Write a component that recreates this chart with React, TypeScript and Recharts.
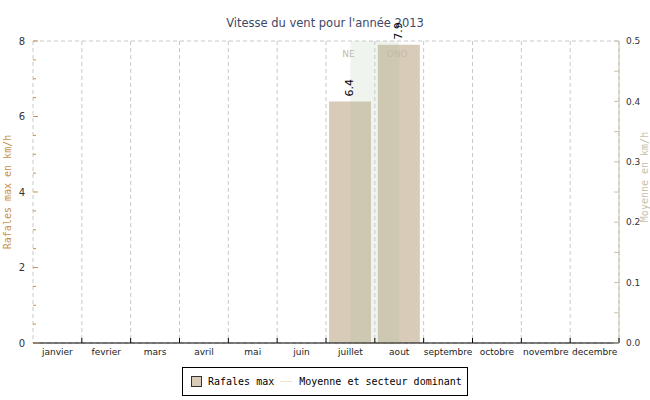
import React from 'react'
import {
  ComposedChart, Bar, Line, XAxis, YAxis, CartesianGrid,
  ReferenceArea, LabelList, Legend,
} from 'recharts'

// données 2013
const months = ['janvier', 'fevrier', 'mars', 'avril', 'mai', 'juin', 'juillet', 'aout', 'septembre', 'octobre', 'novembre', 'decembre']
const rafalesMax = [null, null, null, null, null, null, 6.4, 7.9, null, null, null, null]
const moyenne = [null, null, null, null, null, null, 0, 0, null, null, null, null]
const secteur = ['', '', '', '', '', '', 'NE', 'ONO', '', '', '', '']

const leftTicks = [0, 0.5, 1, 1.5, 2, 2.5, 3, 3.5, 4, 4.5, 5, 5.5, 6, 6.5, 7, 7.5, 8]
const leftMajor = [0, 2, 4, 6, 8]
const rightTicks = [0, 0.05, 0.1, 0.15, 0.2, 0.25, 0.3, 0.35, 0.4, 0.45, 0.5]
const rightMajor = [0, 0.1, 0.2, 0.3, 0.4, 0.5]
const gridY = [2, 4, 6, 8]
const gridX = [1, 2, 3, 4, 5, 6, 7, 8, 9, 10, 11]

const data = months.map((m, i) => ({
  mois: m, idx: i + 0.5,
  rafales: rafalesMax[i], moyenne: moyenne[i], secteur: secteur[i],
}))

// bande verte : mois qui ont une moyenne
const withMoy = moyenne.map((v, i) => (v == null ? -1 : i)).filter(i => i >= 0)
const bandFrom = withMoy[0] + 0.5
const bandTo = withMoy[withMoy.length - 1] + 0.5

const W = 650
const H = 400
const PLOT_LEFT = 33
const PLOT_RIGHT = 619
const PLOT_TOP = 41
const PLOT_BOTTOM = 343
const BW = (PLOT_RIGHT - PLOT_LEFT) / months.length

const BAR = '#d8ccb8'
const LEFT_COL = '#c8914a'
const RIGHT_COL = '#c8c0aa'
const MONO = '"DejaVu Sans Mono", monospace'
const SANS = '"DejaVu Sans", sans-serif'

function MonthTick({ x, payload }: any) {
  return (
    <g>
      <line x1={x + BW / 2} x2={x + BW / 2} y1={PLOT_BOTTOM - 5} y2={PLOT_BOTTOM} stroke="#000" />
      <text x={x} y={PLOT_BOTTOM + 12} textAnchor="middle" fontSize={9} fontFamily={SANS} fill="#222">
        {payload.value}
      </text>
    </g>
  )
}

function LeftTick({ y, payload }: any) {
  const major = leftMajor.includes(payload.value)
  return (
    <g>
      <line x1={PLOT_LEFT} x2={PLOT_LEFT + (major ? 5 : 3)} y1={y} y2={y} stroke={LEFT_COL} />
      {major && (
        <text x={PLOT_LEFT - 8} y={y} dy="0.35em" textAnchor="end" fontSize={10} fontFamily={SANS} fill="#333">
          {payload.value}
        </text>
      )}
    </g>
  )
}

function RightTick({ y, payload }: any) {
  const major = rightMajor.includes(payload.value)
  return (
    <g>
      <line x1={PLOT_RIGHT - 5} x2={PLOT_RIGHT} y1={y} y2={y} stroke={RIGHT_COL} />
      {major && (
        <text x={PLOT_RIGHT + 7} y={y} dy="0.35em" textAnchor="start" fontSize={9} fontFamily={SANS} fill="#333">
          {payload.value.toFixed(1)}
        </text>
      )}
    </g>
  )
}

function ValueLabel({ x, y, width, value }: any) {
  if (value == null) return null
  const cx = x + width / 2
  const ty = y - 5
  return (
    <text x={cx} y={ty} transform={`rotate(-90, ${cx}, ${ty})`} textAnchor="start" dominantBaseline="central"
      fontSize={11} fontFamily={SANS} fill="#000">
      {value}
    </text>
  )
}

function SectorLabel({ x, value }: any) {
  if (!value) return null
  return (
    <text x={x - 2} y={PLOT_TOP + 16} textAnchor="middle" fontSize={9} fontFamily={SANS} fill="#c4baa4">
      {value}
    </text>
  )
}

function LegendBox() {
  return (
    <div style={{
      border: '1px solid #000', background: '#fff', height: 27, width: 284,
      display: 'flex', alignItems: 'center', fontFamily: MONO, fontSize: 10, color: '#000',
    }}>
      <span style={{ width: 9, height: 9, marginLeft: 8, background: BAR, border: '1px solid #333' }} />
      <span style={{ marginLeft: 6 }}>Rafales max</span>
      <span style={{ width: 12, height: 1, background: '#ede4cc', margin: '0 7px 0 6px' }} />
      <span>Moyenne et secteur dominant</span>
    </div>
  )
}

export default function App() {
  return (
    <div style={{ position: 'absolute', left: 0, top: 0, width: W, height: H, background: '#fff' }}>
      <div style={{
        position: 'absolute', left: 0, top: 16, width: W, textAlign: 'center',
        fontFamily: SANS, fontSize: 11.5, color: '#3e4866', lineHeight: '14px',
      }}>
        Vitesse du vent pour l'année 2013
      </div>
      <ComposedChart width={W} height={H} data={data}
        margin={{ top: PLOT_TOP, right: 0, bottom: H - PLOT_BOTTOM - 20, left: 0 }}>
        <XAxis dataKey="mois" xAxisId="m" height={20} interval={0} tickLine={false} tickSize={0}
          axisLine={{ stroke: '#000' }} tick={<MonthTick />} />
        <XAxis xAxisId="n" type="number" dataKey="idx" domain={[0, months.length]} ticks={gridX} hide />
        <YAxis yAxisId="l" width={PLOT_LEFT} domain={[0, 8]} ticks={leftTicks} interval={0}
          tickLine={false} axisLine={{ stroke: LEFT_COL }} tick={<LeftTick />}
          label={{
            value: 'Rafales max en km/h',
            content: () => (
              <text x={7} y={(PLOT_TOP + PLOT_BOTTOM) / 2} transform={`rotate(-90, 7, ${(PLOT_TOP + PLOT_BOTTOM) / 2})`}
                textAnchor="middle" dominantBaseline="central" fontSize={10} fontFamily={MONO} fill={LEFT_COL}>
                Rafales max en km/h
              </text>
            ),
          }} />
        <YAxis yAxisId="r" orientation="right" width={W - PLOT_RIGHT} domain={[0, 0.5]} ticks={rightTicks} interval={0}
          tickLine={false} axisLine={{ stroke: RIGHT_COL }} tick={<RightTick />}
          label={{
            value: 'Moyenne en km/h',
            content: () => (
              <text x={644} y={177} transform="rotate(-90, 644, 177)"
                textAnchor="middle" dominantBaseline="central" fontSize={10} fontFamily={MONO} fill={RIGHT_COL}>
                Moyenne en km/h
              </text>
            ),
          }} />
        <YAxis yAxisId="g" domain={[0, 8]} ticks={gridY} hide />

        <Bar dataKey="rafales" xAxisId="m" yAxisId="l" fill={BAR} barSize={42} isAnimationActive={false}>
          <LabelList dataKey="rafales" content={<ValueLabel />} />
        </Bar>
        <ReferenceArea xAxisId="n" yAxisId="l" x1={bandFrom} x2={bandTo} y1={0} y2={8}
          fill="#8cb48c" fillOpacity={0.14} stroke="none" ifOverflow="visible" zIndex={450} />
        <Line dataKey="moyenne" xAxisId="m" yAxisId="r" stroke="#ede4cc" strokeWidth={1} dot={false}
          isAnimationActive={false} connectNulls={false}>
          <LabelList dataKey="secteur" content={<SectorLabel />} />
        </Line>
        <CartesianGrid xAxisId="n" yAxisId="g" stroke="#c8c8c8" strokeDasharray="4 3" zIndex={460} />
        <Legend layout="horizontal" verticalAlign="middle" content={<LegendBox />}
          wrapperStyle={{ position: 'absolute', left: 182, top: 367, width: 286, height: 29 }} />
      </ComposedChart>
    </div>
  )
}
